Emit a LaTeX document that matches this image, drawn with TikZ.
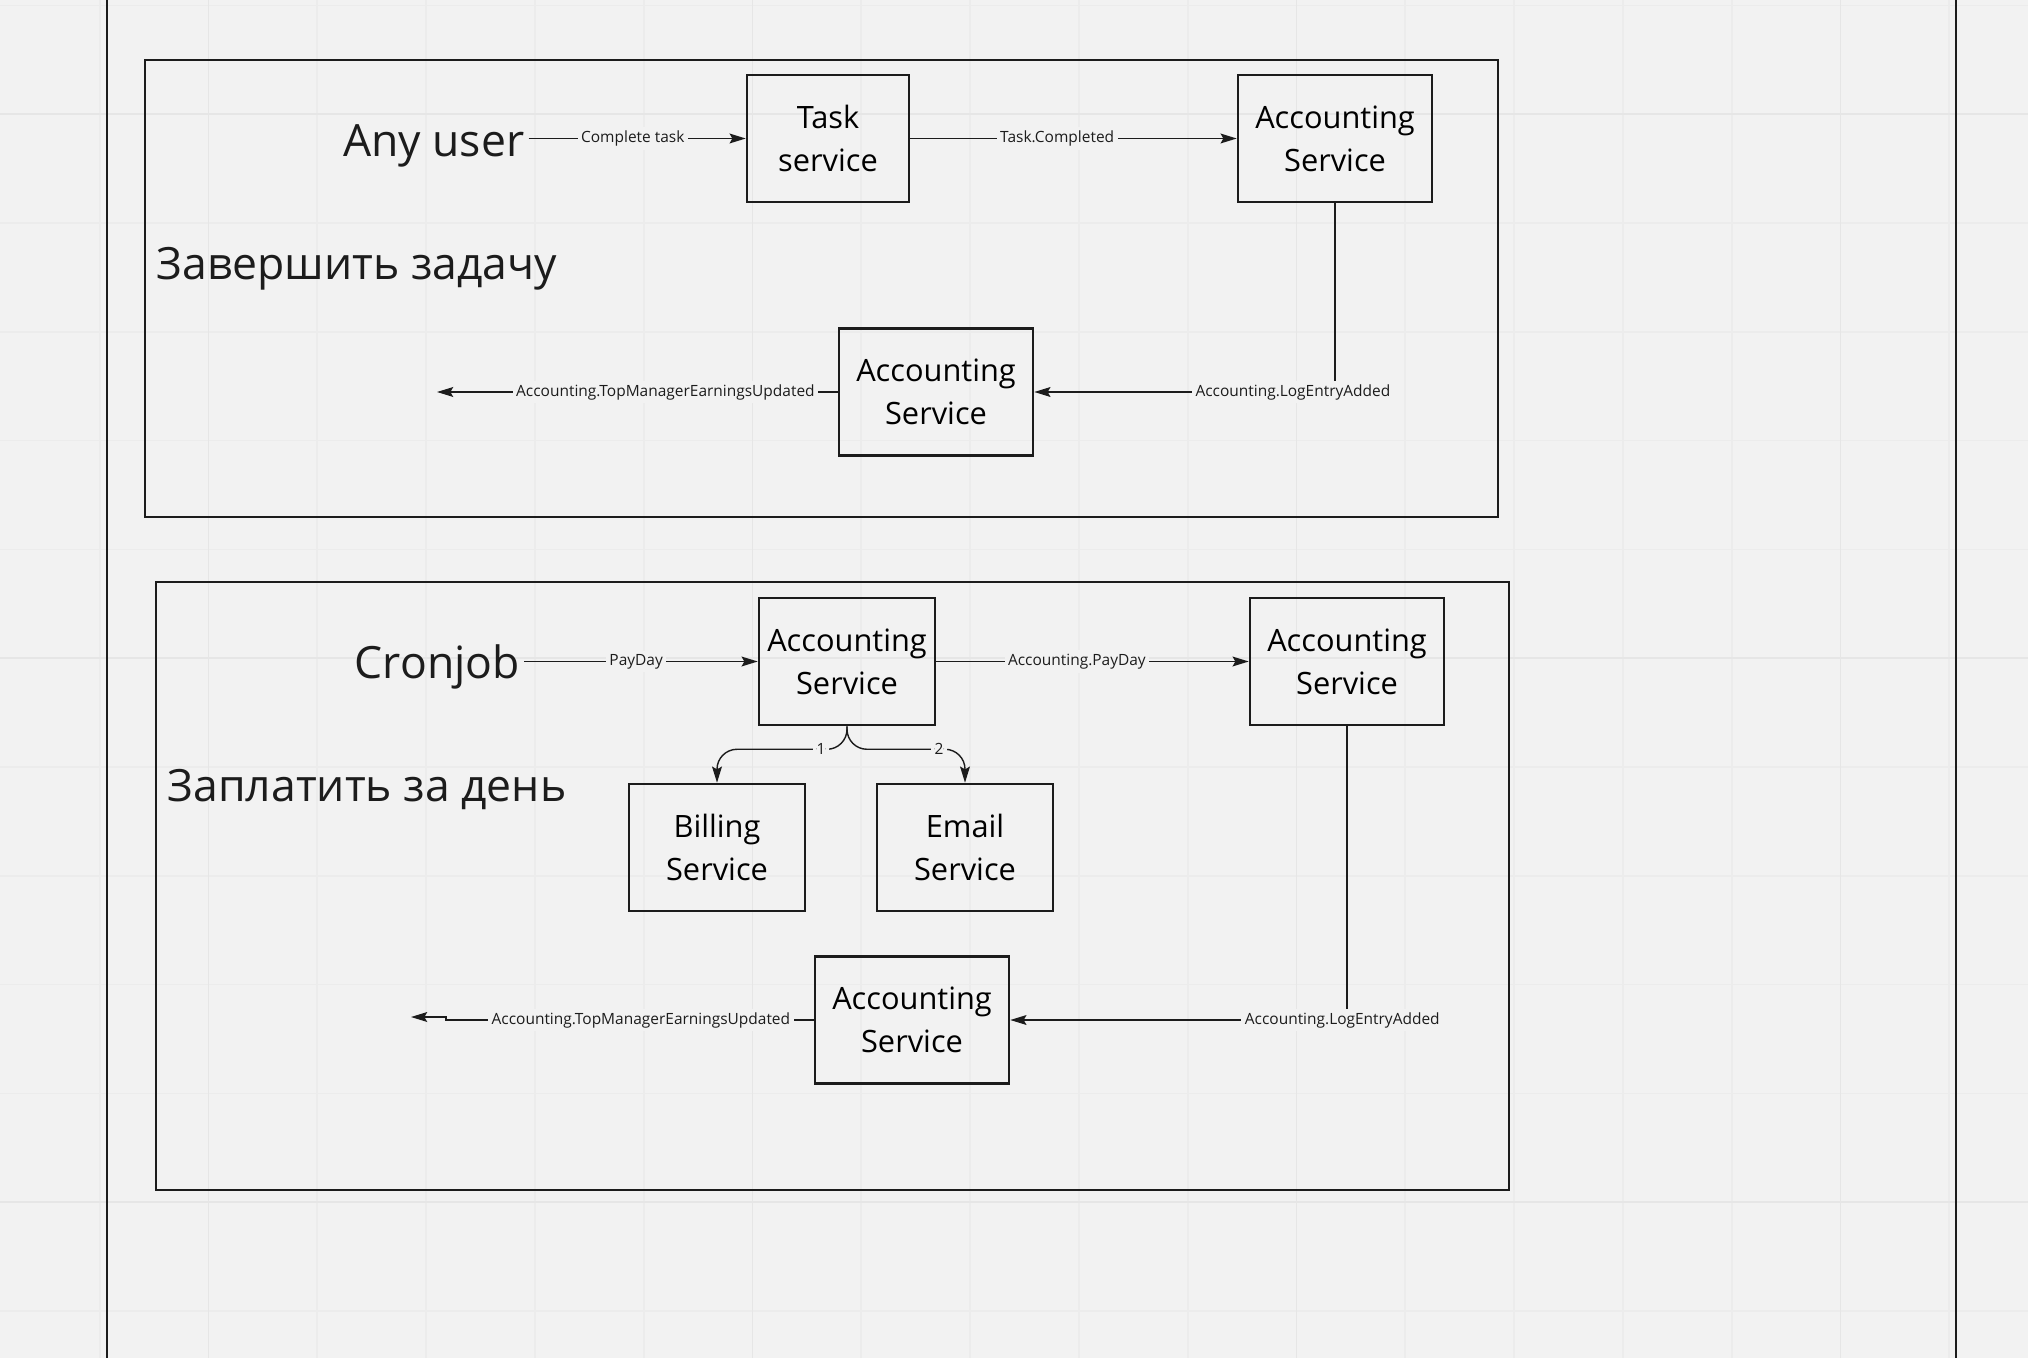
\documentclass[tikz,border=0pt]{standalone}
\usepackage{fontspec}
\setmainfont{Open Sans}
\usetikzlibrary{arrows.meta}
\definecolor{bgc}{HTML}{F2F2F2}
\definecolor{ink}{HTML}{1C1C1C}
\definecolor{gridmin}{HTML}{ECECEC}
\definecolor{gridmaj}{HTML}{E6E6E6}

\begin{document}
\begin{tikzpicture}[x=0.01cm,y=-0.01cm,
  svc/.style={draw=ink,line width=0.7pt,minimum height=1.27cm,align=center,inner sep=0pt,
    font=\fontsize{8.75}{12.2}\selectfont},
  big/.style={inner sep=1pt,text=ink,font=\fontsize{12.65}{14}\selectfont},
  lbl/.style={fill=bgc,inner sep=1pt,text=ink,font=\fontsize{4.4}{5}\selectfont},
  arr/.style={draw=ink,line width=0.4pt,-{Stealth[length=4.6pt,width=2.8pt,inset=0.8pt]}}]
\def\rowA{138.5}
\def\rowB{392}
\def\rowC{661.5}
\def\rowD{847.5}
\def\rowE{1020}
\fill[bgc] (0,0) rectangle (2028,1358);
\useasboundingbox (0,0) rectangle (2028,1358);
% board grid
\foreach \i in {-1,...,17} \draw[gridmin,line width=0.5pt] ({208.5+\i*108.8},0) -- ({208.5+\i*108.8},1358);
\foreach \i in {0,...,12} \draw[gridmin,line width=0.5pt] (0,{5.4+\i*108.8}) -- (2028,{5.4+\i*108.8});
\foreach \i in {0,5,10,15} \draw[gridmaj,line width=0.5pt] ({208.5+\i*108.8},0) -- ({208.5+\i*108.8},1358);
\foreach \i in {1,6,11} \draw[gridmaj,line width=0.5pt] (0,{5.4+\i*108.8}) -- (2028,{5.4+\i*108.8});
\draw[ink,line width=0.55pt] (107,0) -- (107,1358);
\draw[ink,line width=0.55pt] (1956,0) -- (1956,1358);
% frames
\draw[ink,line width=0.65pt] (145,60) rectangle (1498,517);
\draw[ink,line width=0.65pt] (156,582) rectangle (1509,1190);

% complete task
\path
(528.5,156.5) node [big,anchor=base east] (anyuser) {Any user}
(156,279.5) node [big,anchor=base west,inner sep=0pt] (zavershit) {Завершить задачу}
(828,\rowA) node [svc,minimum width=1.62cm] (task) {Task\\service}
(1335,\rowA) node [svc,minimum width=1.94cm] (accA) {Accounting\\Service}
(936,\rowB) node [svc,minimum width=1.94cm] (accB) {Accounting\\Service}
;
\coordinate (endA) at (437,\rowB);
\draw[arr] (anyuser.east |- task.west) -- (task.west) node[lbl,pos=0.48] {Complete task};
\draw[arr] (task.east) -- (accA.west) node[lbl,pos=0.45] {Task.Completed};
\draw[arr] (accA.south) |- (accB.east) node[lbl,pos=0.57] {Accounting.LogEntryAdded};
\draw[arr] (accB.west) -- (endA) node[lbl,pos=0.43] {Accounting.TopManagerEarningsUpdated};

% pay day
\path
(524,678) node [big,anchor=base east] (cronjob) {Cronjob}
(167,801) node [big,anchor=base west,inner sep=0pt] (zaplatit) {Заплатить за день}
(847,\rowC) node [svc,minimum width=1.76cm] (accC) {Accounting\\Service}
(1347,\rowC) node [svc,minimum width=1.94cm] (accD) {Accounting\\Service}
(717,\rowD) node [svc,minimum width=1.76cm] (billing) {Billing\\Service}
(965,\rowD) node [svc,minimum width=1.76cm] (email) {Email\\Service}
(912,\rowE) node [svc,minimum width=1.94cm] (accE) {Accounting\\Service}
;
\coordinate (jogB) at (446,\rowE);
\coordinate (endB) at (411,1017);
\draw[arr] (cronjob.east |- accC.west) -- (accC.west) node[lbl,pos=0.48] {PayDay};
\draw[arr] (accC.east) -- (accD.west) node[lbl,pos=0.45] {Accounting.PayDay};
\draw[arr,rounded corners=0.2cm] (accC.south) -- ++(0,23) -| (billing.north) node[lbl,pos=0.1] {1};
\draw[arr,rounded corners=0.2cm] (accC.south) -- ++(0,23) -| (email.north) node[lbl,pos=0.39] {2};
\draw[arr] (accD.south) |- (accE.east) node[lbl,pos=0.507] {Accounting.LogEntryAdded};
\draw[arr] (accE.west) -- (jogB) node[lbl,pos=0.47] {Accounting.TopManagerEarningsUpdated} |- (endB);
%\draw[help lines] (0,0) grid (2028,1358);
\end{tikzpicture}
\end{document}
